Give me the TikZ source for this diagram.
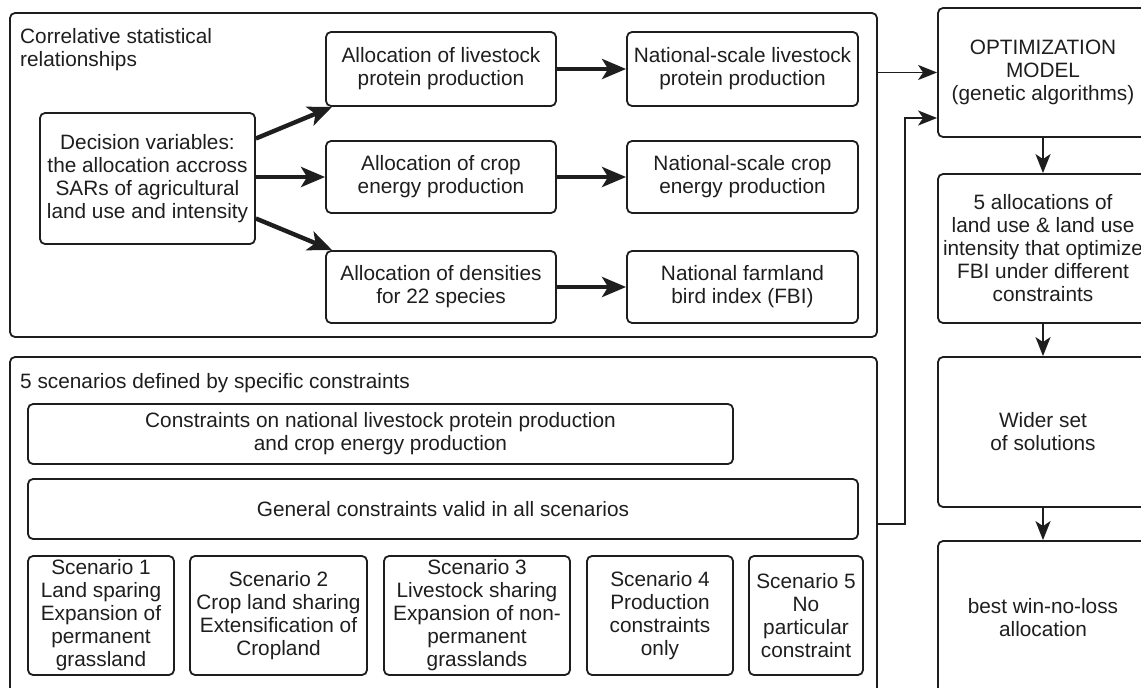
\documentclass[tikz,border=0pt]{standalone}
\usepackage{fontspec}
\setmainfont{Liberation Sans}
\usetikzlibrary{arrows.meta}
\definecolor{ink}{HTML}{1E1E1E}
\tikzset{
  box/.style={draw=ink, rounded corners=5pt, line width=1.8pt, align=center, inner sep=0pt, text=ink},
  lbl/.style={align=left, anchor=west, inner sep=0pt, text=ink},
  thinarr/.style={draw=ink, line width=1.8pt, -{Stealth[length=19pt,width=15pt,inset=5pt]}},
  thickarr/.style={draw=ink, line width=4.4pt, -{Stealth[length=24pt,width=20pt,inset=6pt]}},
}
\begin{document}
\begin{tikzpicture}[x=1pt, y=-1pt, font=\fontsize{20.8}{23}\selectfont]
\clip (0,0) rectangle (1141,688);
% containers
\node[box, minimum width=867pt, minimum height=324pt] (top) at (443.5,175) {};
\node[box, minimum width=867pt, minimum height=343pt] (bot) at (443.5,528.5) {};
\node[lbl] (tl) at (20,50) {Correlative statistical\\relationships};
\node[lbl] (bl) at (20,383) {5 scenarios defined by specific constraints};
% top content
\node[box, minimum width=215pt, minimum height=131pt] (dec) at (147.5,178.5)
  {Decision variables:\\the allocation accross\\SARs of agricultural\\land use and intensity};
\node[box, minimum width=230pt, minimum height=74pt] (al1) at (441,69) {Allocation of livestock\\protein production};
\node[box, minimum width=230pt, minimum height=72pt] (al2) at (441,177) {Allocation of crop\\energy production};
\node[box, minimum width=230pt, minimum height=72pt] (al3) at (441,287) {Allocation of densities\\for 22 species};
\node[box, minimum width=231pt, minimum height=74pt] (na1) at (742.5,69) {National-scale livestock\\protein production};
\node[box, minimum width=231pt, minimum height=72pt] (na2) at (742.5,177) {National-scale crop\\energy production};
\node[box, minimum width=231pt, minimum height=72pt] (na3) at (742.5,287) {National farmland\\bird index (FBI)};
% bottom content
\node[box, minimum width=705pt, minimum height=60pt] (cons) at (380.5,434) {Constraints on national livestock protein production\\and crop energy production};
\node[box, minimum width=830pt, minimum height=60pt] (gen) at (443,509) {General constraints valid in all scenarios};
\node[box, minimum width=146pt, minimum height=119pt] (s1) at (101,615.5) {Scenario 1\\Land sparing\\Expansion of\\permanent\\grassland};
\node[box, minimum width=177pt, minimum height=119pt] (s2) at (278.5,615.5) {Scenario 2\\Crop land sharing\\Extensification of\\Cropland};
\node[box, minimum width=186pt, minimum height=119pt] (s3) at (477,615.5) {Scenario 3\\Livestock sharing\\Expansion of non-\\permanent\\grasslands};
\node[box, minimum width=146pt, minimum height=119pt] (s4) at (660,615.5) {Scenario 4\\Production\\constraints\\only};
\node[box, minimum width=114pt, minimum height=119pt] (s5) at (806,615.5) {Scenario 5\\No\\particular\\constraint};
% right column
\node[box, minimum width=210pt, minimum height=129pt] (opt) at (1043,72.5) {OPTIMIZATION\\MODEL\\(genetic algorithms)};
\node[box, minimum width=210pt, minimum height=149pt] (five) at (1043,248.5) {5 allocations of\\land use \& land use\\intensity that optimize\\FBI under different\\constraints};
\node[box, minimum width=210pt, minimum height=150pt] (wide) at (1043,432) {Wider set\\of solutions};
\node[box, minimum width=210pt, minimum height=154pt] (best) at (1043,618) {best win-no-loss\\allocation};
% arrows
\draw[thickarr] ([yshift=40pt]dec.east) -- ([xshift=7pt]al1.south west);
\draw[thickarr] (dec.east |- al2.west) -- (al2.west);
\draw[thickarr] ([yshift=-40pt]dec.east) -- ([xshift=7pt]al3.north west);
\draw[thickarr] (al1.east) -- (na1.west);
\draw[thickarr] (al2.east) -- (na2.west);
\draw[thickarr] (al3.east) -- (na3.west);
\draw[thinarr] (top.east |- opt.west) -- (opt.west);
\coordinate (lp) at (905,524);
\draw[thinarr] (bot.east |- lp) -- (lp) |- ([yshift=-45.5pt]opt.west);
\draw[thinarr] (opt.south) -- (five.north);
\draw[thinarr] (five.south) -- (wide.north);
\draw[thinarr] (wide.south) -- (best.north);
\end{tikzpicture}
\end{document}
